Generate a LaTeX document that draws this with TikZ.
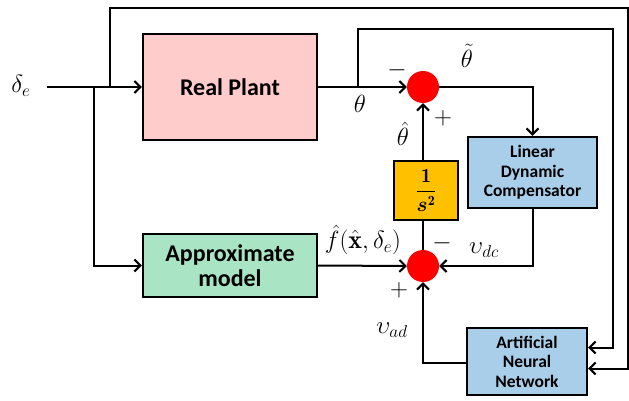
\documentclass[tikz,border=0pt]{standalone}
\usepackage{fontspec}
\setsansfont{Carlito}
\usepackage{amsmath,amssymb}
\usetikzlibrary{positioning, calc, arrows.meta}
\definecolor{rosa}{HTML}{FFCCCC}
\definecolor{verde}{HTML}{A9E5C5}
\definecolor{azzurro}{HTML}{A9CEEA}
\definecolor{arancio}{HTML}{FFC000}

\begin{document}
\begin{tikzpicture}[x=1pt,y=-1pt,
        blocco/.style={draw,line width=2.4pt,inner sep=0pt,align=center,font=\sffamily\bfseries\fontsize{24}{25}\selectfont},
        bloccopic/.style={blocco,font=\sffamily\bfseries\fontsize{17.5}{19.5}\selectfont},
        somma/.style={circle,fill=red,minimum size=32pt,inner sep=0pt},
        etich/.style={inner sep=0pt,font=\fontsize{26}{28}\selectfont},
        freccia/.style={line width=2pt,-{Straight Barb[length=6pt,width=12pt,line width=2pt]}}]
        \useasboundingbox (0,0) rectangle (629,401);
        %blocchi
        \node[blocco,fill=rosa,minimum width=174pt,minimum height=106pt] (plant) at (230,87) {Real Plant};
        \node[blocco,fill=verde,minimum width=174pt,minimum height=63pt] (approx) at (230,265.5) {Approximate\\model};
        \node[blocco,fill=arancio,minimum width=64pt,minimum height=59pt,font=\fontsize{20}{22}\selectfont] (integ) at (426,190.5) {$\dfrac{\mathbf{1}}{\boldsymbol{s}^{\mathbf{2}}}$};
        \node[bloccopic,fill=azzurro,minimum width=129pt,minimum height=71pt] (ldc) at (532.5,172.5) {Linear\\Dynamic\\Compensator};
        \node[bloccopic,fill=azzurro,minimum width=120pt,minimum height=67pt] (ann) at (527,361.5) {Artificial\\Neural\\Network};
        %nodi somma
        \node[somma] (sumA) at (423,87) {};
        \node[somma] (sumB) at (423,266) {};
        %punti di diramazione
        \coordinate (ingresso) at (47,87);
        \coordinate (ramo) at (94,87);
        \coordinate (ramoext) at (110,87);
        \coordinate (angoloext) at (628,8);
        \coordinate (ramoth) at (358,87);
        \coordinate (angoloint) at (613,29);
        %collegamenti
        \draw[freccia] (ingresso) -- (plant.west);
        \draw[freccia] (ramo) |- (approx.west);
        \draw[freccia] (ramoext) |- (angoloext) |- ([yshift=-7pt]ann.east);
        \draw[freccia] (plant.east) -- (sumA.west);
        \draw[freccia] (ramoth) |- (angoloint) |- ([yshift=14pt]ann.east);
        \draw[freccia] (sumA.east) -| (ldc.north);
        \draw[freccia] (sumA |- integ.north) -- (sumA.south);
        \draw[line width=2pt] (sumB.north) -- (sumB |- integ.south);
        \draw[freccia] (ldc.south) |- (sumB.east);
        \draw[freccia] (approx.east) -- (sumB.west);
        \draw[freccia] ([yshift=-1.5pt]ann.west) -| (sumB.south);
        %etichette
        \node[etich] (de) at (21,86) {$\delta_e$};
        \node[etich] (th) at (360,104) {$\theta$};
        \node[etich] (menoA) at (397,70) {$-$};
        \node[etich] (thtilde) at (467,56) {$\tilde{\theta}$};
        \node[etich] (thhat) at (403,134) {$\hat{\theta}$};
        \node[etich] (piuA) at (443,118) {$+$};
        \node[etich] (fhat) at (363,240) {$\hat{f}(\hat{\mathbf{x}},\delta_e)$};
        \node[etich] (menoB) at (442,243) {$-$};
        \node[etich] (vdc) at (484,250) {$\upsilon_{dc}$};
        \node[etich] (piuB) at (399,290) {$+$};
        \node[etich] (vad) at (392,330) {$\upsilon_{ad}$};
    \end{tikzpicture}
\end{document}
